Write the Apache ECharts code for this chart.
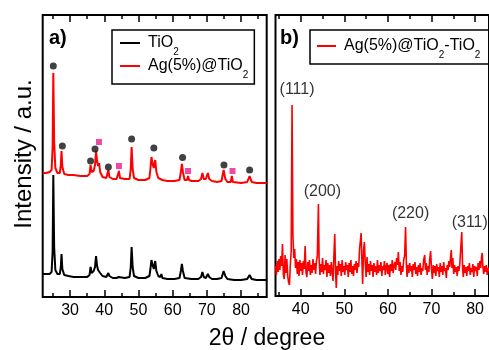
<!DOCTYPE html>
<html>
<head>
<meta charset="utf-8">
<script src="https://cdn.jsdelivr.net/npm/echarts@6.0.0/dist/echarts.min.js"></script>
<style>
  html, body { margin: 0; padding: 0; background: #fff; }
  #chart { width: 489px; height: 350px; }
</style>
</head>
<body>
<div id="chart"></div>
<script>
// panel a) XRD patterns, intensity in arbitrary units (offset stacked)
const tio2 = [
  [22.0, 23], [23.0, 23], [24.0, 23], [24.6, 25], [24.9, 45], [25.1, 122], [25.35, 50], [25.7, 27],
  [26.3, 23], [27.0, 23], [27.3, 30], [27.5, 43], [27.75, 28], [28.3, 22], [29.5, 21], [31, 20],
  [33, 20], [35, 20], [35.7, 22], [36.0, 30], [36.3, 24], [36.9, 26], [37.3, 30], [37.6, 41],
  [37.9, 31], [38.2, 27], [38.5, 29], [38.8, 24], [39.5, 21], [40.6, 20], [40.95, 22], [41.2, 24],
  [41.5, 21], [42.5, 19], [43.6, 19], [44.2, 20], [44.7, 19], [46, 19], [47.4, 20], [47.75, 30],
  [48.0, 50], [48.3, 30], [48.7, 21], [50, 19], [52, 19], [53.2, 21], [53.5, 28], [53.8, 37],
  [54.2, 31], [54.5, 28], [54.9, 36], [55.25, 26], [55.8, 21], [56.4, 20], [56.7, 23], [57.0, 19],
  [58.5, 18], [60.5, 18], [62.0, 19], [62.4, 26], [62.7, 33], [63.0, 26], [63.5, 19], [65.5, 18],
  [67.5, 18], [68.3, 20], [68.7, 25], [69.1, 20], [69.7, 19], [70.3, 23], [70.7, 20], [71.5, 18],
  [73, 18], [74.3, 19], [74.9, 26], [75.4, 21], [76, 18], [78, 17], [80, 17], [81.8, 18],
  [82.5, 22], [83.1, 18], [84.5, 17], [86, 17], [87.5, 17]
];

const agTio2 = [
  [22.0, 124], [23.0, 124], [24.0, 125], [24.6, 127], [24.9, 150], [25.1, 224], [25.35, 155], [25.7, 129],
  [26.3, 124], [27.0, 124], [27.3, 132], [27.5, 146], [27.75, 130], [28.3, 123], [29.5, 122], [31, 122],
  [33, 121], [35, 121], [35.7, 123], [36.0, 132], [36.3, 125], [36.9, 126], [37.3, 132], [37.6, 146],
  [37.9, 136], [38.2, 131], [38.5, 134], [38.8, 125], [39.5, 120], [40.6, 119], [40.95, 121], [41.2, 127],
  [41.5, 120], [42.5, 118], [43.6, 118], [44.0, 119], [44.3, 126], [44.6, 119], [46, 118], [47.4, 118],
  [47.75, 128], [48.0, 150], [48.3, 128], [48.7, 119], [50, 117], [52, 117], [53.2, 119], [53.5, 128],
  [53.8, 140], [54.2, 132], [54.5, 129], [54.9, 137], [55.25, 125], [55.8, 119], [56.4, 118], [56.7, 120],
  [57.0, 117], [58.5, 116], [60.5, 116], [62.0, 117], [62.4, 125], [62.7, 133], [63.0, 125], [63.5, 117],
  [64.2, 117], [64.5, 121], [64.8, 117], [65.5, 116], [67.5, 116], [68.3, 118], [68.7, 124], [69.1, 118],
  [69.7, 118], [70.3, 124], [70.7, 118], [71.5, 116], [73, 115], [74.3, 116], [74.9, 127], [75.4, 118],
  [76, 115], [77.0, 115], [77.3, 121], [77.6, 115], [78, 114], [80, 114], [81.8, 115], [82.5, 121],
  [83.1, 115], [84.5, 114], [86, 114], [87.5, 114]
];

// reflection markers above the Ag@TiO2 pattern
const tio2Marks = [
  [25.1, 231], [27.75, 151], [36.0, 136], [37.3, 148], [41.2, 130],
  [48.0, 158], [54.5, 149], [62.9, 139.5], [75.0, 132], [82.5, 127]
];
const agMarks = [[38.45, 155], [44.3, 131], [64.5, 126], [77.5, 126]];

// panel b) difference pattern
const diff = [
  [34.2, 30], [34.4, 21], [34.6, 35], [34.8, 24], [35.0, 37], [35.2, 26], [35.4, 40], [35.6, 30], [35.8, 52], [36.0, 22],
  [36.2, 17], [36.4, 41], [36.6, 23], [36.8, 37], [37.0, 20], [37.2, 14], [37.4, 11], [37.6, 31], [37.8, 45], [38.0, 191],
  [38.2, 60], [38.4, 38], [38.6, 47], [38.8, 28], [39.0, 37], [39.2, 22], [39.4, 34], [39.6, 20], [39.8, 36], [40.0, 25],
  [40.2, 33], [40.4, 21], [40.6, 35], [40.8, 27], [41.0, 50], [41.2, 24], [41.4, 19], [41.6, 34], [41.8, 25], [42.0, 36],
  [42.2, 21], [42.4, 31], [42.6, 23], [42.8, 37], [43.0, 26], [43.2, 33], [43.4, 22], [43.6, 35], [43.8, 40], [44.05, 92],
  [44.2, 38], [44.4, 21], [44.6, 32], [44.8, 24], [45.0, 38], [45.2, 22], [45.4, 31], [45.6, 26], [45.8, 36], [46.0, 19],
  [46.2, 33], [46.4, 23], [46.6, 31], [46.8, 20], [47.0, 34], [47.2, 25], [47.4, 15], [47.6, 40], [47.8, 62], [48.0, 22],
  [48.15, 8], [48.35, 30], [48.5, 21], [48.7, 35], [48.9, 25], [49.1, 32], [49.3, 20], [49.5, 36], [49.7, 24], [49.9, 30],
  [50.1, 21], [50.3, 34], [50.5, 26], [50.7, 31], [50.9, 19], [51.1, 33], [51.3, 24], [51.5, 36], [51.7, 22], [51.9, 30],
  [52.1, 20], [52.3, 32], [52.5, 26], [52.7, 35], [52.9, 23], [53.1, 33], [53.3, 29], [53.5, 48], [53.7, 56], [53.85, 63],
  [54.0, 40], [54.2, 12], [54.4, 45], [54.6, 54], [54.8, 33], [55.0, 19], [55.2, 39], [55.4, 24], [55.6, 32], [55.8, 21],
  [56.0, 35], [56.2, 25], [56.4, 31], [56.6, 19], [56.8, 33], [57.0, 24], [57.2, 30], [57.4, 21], [57.6, 36], [57.8, 23],
  [58.0, 31], [58.2, 25], [58.4, 34], [58.6, 20], [58.8, 30], [59.0, 26], [59.2, 35], [59.4, 21], [59.6, 29], [59.8, 33],
  [60.0, 22], [60.2, 31], [60.4, 19], [60.6, 32], [60.8, 25], [61.0, 36], [61.2, 23], [61.4, 30], [61.6, 34], [61.8, 26],
  [62.0, 38], [62.2, 31], [62.4, 44], [62.6, 25], [62.8, 34], [63.0, 21], [63.2, 30], [63.4, 24], [63.6, 35], [63.85, 41],
  [64.05, 69], [64.25, 30], [64.4, 19], [64.6, 31], [64.8, 23], [65.0, 33], [65.2, 25], [65.4, 30], [65.6, 19], [65.8, 32],
  [66.0, 26], [66.2, 34], [66.4, 22], [66.6, 29], [66.8, 20], [67.0, 31], [67.2, 24], [67.4, 33], [67.6, 21], [67.8, 28],
  [68.0, 25], [68.2, 36], [68.45, 41], [68.6, 26], [68.8, 33], [69.0, 21], [69.2, 30], [69.4, 24], [69.6, 37], [69.8, 45],
  [70.0, 27], [70.2, 17], [70.4, 31], [70.6, 23], [70.8, 30], [71.0, 20], [71.2, 32], [71.4, 25], [71.6, 29], [71.8, 19],
  [72.0, 33], [72.2, 24], [72.4, 30], [72.6, 21], [72.8, 34], [73.0, 25], [73.2, 28], [73.4, 18], [73.6, 31], [73.8, 26],
  [74.0, 35], [74.2, 29], [74.4, 40], [74.55, 46], [74.7, 28], [74.9, 38], [75.1, 22], [75.3, 31], [75.5, 24], [75.7, 29],
  [75.9, 20], [76.1, 30], [76.3, 25], [76.5, 32], [76.7, 34], [76.95, 64], [77.15, 27], [77.3, 19], [77.5, 31], [77.7, 23],
  [77.9, 29], [78.1, 20], [78.3, 30], [78.5, 25], [78.7, 33], [78.9, 21], [79.1, 28], [79.3, 24], [79.5, 32], [79.7, 19],
  [79.9, 30], [80.1, 25], [80.3, 29], [80.5, 20], [80.7, 33], [80.9, 26], [81.1, 35], [81.3, 28], [81.5, 39], [81.65, 43],
  [81.8, 29], [82.0, 22], [82.2, 30], [82.4, 24], [82.6, 31], [82.8, 21], [83.0, 28], [83.2, 25]
];
const hklLabels = ["(111)", "(200)", "(220)", "(311)"];
const hklPeaks = [[38.0, 191], [44.05, 92], [64.05, 69], [76.95, 64]];

const majorA = [30, 40, 50, 60, 70, 80];
const minorA = [25, 35, 45, 55, 65, 75, 85];
const majorB = [40, 50, 60, 70, 80];
const minorB = [35, 45, 55, 65, 75];

const font = "'Liberation Sans', Arial, sans-serif";
const red = "#ff0000";
const pink = "#ec1c8e";

const legendNames = {
  "TiO2": "{n|TiO}{s|2}",
  "Ag(5%)@TiO2": "{n|Ag(5%)@TiO}{s|2}",
  "Ag(5%)@TiO2-TiO2": "{n|Ag(5%)@TiO}{s|2}{n|-TiO}{s|2}"
};
const legendRich = {
  n: { fontSize: 16, lineHeight: 16, fontFamily: font, color: "#000", verticalAlign: "middle" },
  s: { fontSize: 10, lineHeight: 10, fontFamily: font, color: "#000", verticalAlign: "top", padding: [12, 0, 0, 0] }
};

function tickAxis(gridIndex, min, max, position, ticks, len, labels) {
  return {
    type: "value",
    gridIndex,
    min,
    max,
    position,
    axisLine: { show: false },
    splitLine: { show: false },
    axisTick: {
      show: true,
      inside: true,
      length: len,
      customValues: ticks,
      lineStyle: { color: "#000", width: 1.5 }
    },
    axisLabel: labels
      ? { show: true, customValues: ticks, margin: 6, fontSize: 16, fontFamily: font, color: "#000" }
      : { show: false }
  };
}

function plainY(gridIndex, max, extra) {
  return Object.assign({
    type: "value",
    gridIndex,
    min: 0,
    max,
    axisLine: { show: false },
    axisTick: { show: false },
    axisLabel: { show: false },
    splitLine: { show: false }
  }, extra || {});
}

const chart = echarts.init(document.getElementById("chart"), null, { renderer: "canvas" });
chart.setOption({
  animation: false,
  backgroundColor: "#fff",
  title: [
    { text: "a)", left: 49, top: 28, padding: 0, textStyle: { fontSize: 20, fontWeight: "bold", fontFamily: font, color: "#000" } },
    { text: "b)", left: 280, top: 28, padding: 0, textStyle: { fontSize: 20, fontWeight: "bold", fontFamily: font, color: "#000" } }
  ],
  legend: [
    {
      data: ["TiO2", "Ag(5%)@TiO2"],
      orient: "vertical",
      left: 112,
      top: 30,
      padding: [5, 6, 4, 8],
      itemGap: 1,
      icon: "rect",
      itemWidth: 20,
      itemHeight: 2,
      borderColor: "#000",
      borderWidth: 1.5,
      formatter: name => legendNames[name],
      textStyle: { padding: [0, 0, 0, 3], rich: legendRich }
    },
    {
      data: ["Ag(5%)@TiO2-TiO2"],
      orient: "vertical",
      left: 310,
      top: 30,
      padding: [8, 60, 4, 7],
      icon: "rect",
      itemWidth: 19,
      itemHeight: 2,
      borderColor: "#000",
      borderWidth: 1.5,
      formatter: name => legendNames[name],
      textStyle: { padding: [0, 0, 0, 3], rich: legendRich }
    }
  ],
  grid: [
    { left: 42.7, top: 15, width: 224, height: 282, show: true, borderColor: "#000", borderWidth: 2, backgroundColor: "transparent" },
    { left: 275.5, top: 15, width: 220.5, height: 281, show: true, borderColor: "#000", borderWidth: 2, backgroundColor: "transparent" }
  ],
  xAxis: [
    tickAxis(0, 22, 87.5, "bottom", majorA, 7, true),
    tickAxis(0, 22, 87.5, "bottom", minorA, 4, false),
    tickAxis(0, 22, 87.5, "top", majorA, 7, false),
    tickAxis(0, 22, 87.5, "top", minorA, 4, false),
    tickAxis(1, 34.2, 83.2, "bottom", majorB, 7, true),
    tickAxis(1, 34.2, 83.2, "bottom", minorB, 4, false),
    tickAxis(1, 34.2, 83.2, "top", majorB, 7, false),
    tickAxis(1, 34.2, 83.2, "top", minorB, 4, false)
  ],
  yAxis: [
    plainY(0, 282, {
      name: "Intensity / a.u.",
      nameLocation: "middle",
      nameGap: 6,
      nameTextStyle: { fontSize: 24, fontFamily: font, color: "#000", padding: [0, 0, 0, 4] }
    }),
    plainY(1, 281)
  ],
  graphic: [
    {
      type: "text",
      x: 267,
      y: 339,
      style: { text: "2θ / degree", fontSize: 23, fontFamily: font, fill: "#000", align: "center", verticalAlign: "middle" }
    }
  ],
  series: [
    {
      name: "TiO2", type: "line", xAxisIndex: 0, yAxisIndex: 0, data: tio2,
      symbol: "none", lineStyle: { color: "#000", width: 2 }, itemStyle: { color: "#000" }
    },
    {
      name: "Ag(5%)@TiO2", type: "line", xAxisIndex: 0, yAxisIndex: 0, data: agTio2,
      symbol: "none", lineStyle: { color: red, width: 2 }, itemStyle: { color: red }
    },
    {
      name: "tio2 reflections", type: "scatter", xAxisIndex: 0, yAxisIndex: 0, data: tio2Marks,
      symbol: "circle", symbolSize: 7, itemStyle: { color: "#111" }, z: 5
    },
    {
      name: "ag reflections", type: "scatter", xAxisIndex: 0, yAxisIndex: 0, data: agMarks,
      symbol: "rect", symbolSize: 6, itemStyle: { color: pink }, z: 5
    },
    {
      name: "Ag(5%)@TiO2-TiO2", type: "line", xAxisIndex: 4, yAxisIndex: 1, data: diff,
      symbol: "none", lineStyle: { color: red, width: 1.6 }, itemStyle: { color: red }
    },
    {
      name: "hkl", type: "scatter", xAxisIndex: 4, yAxisIndex: 1, symbolSize: 0,
      data: hklPeaks.map((p, i) => ({
        value: p,
        name: hklLabels[i],
        label: { offset: [[5, 0], [4, 0], [5, 0], [8, 0]][i], distance: [7, 4, 5, 1][i] }
      })),
      label: {
        show: true, position: "top", formatter: "{b}",
        fontSize: 16, fontFamily: font, color: "#000"
      }
    }
  ]
});
</script>
</body>
</html>
